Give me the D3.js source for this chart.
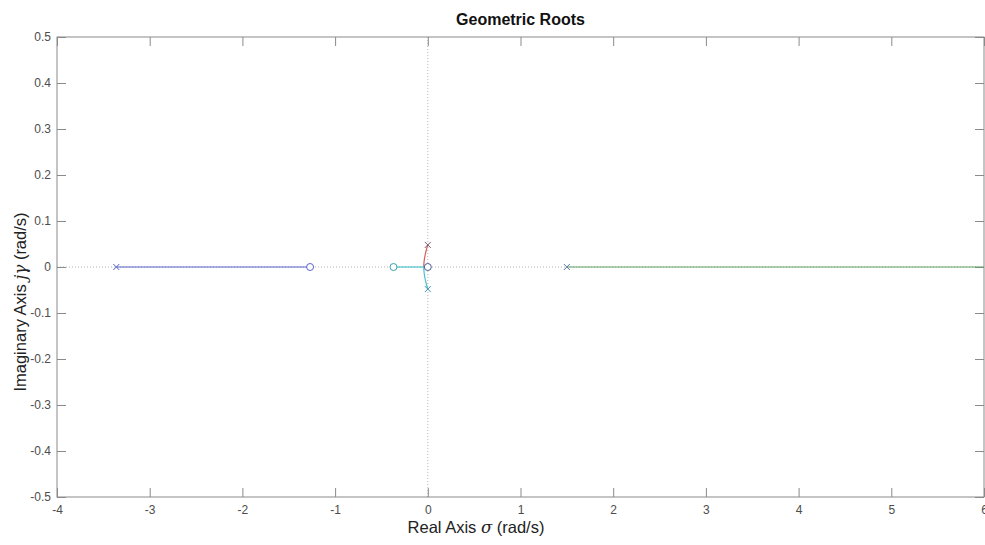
<!DOCTYPE html>
<html>
<head>
<title>Geometric Roots</title>
<script src="https://d3js.org/d3.v7.min.js"></script>
<style>
body { margin: 0; background: white; }
svg { display: block; font-family: "Liberation Sans", Arial, sans-serif; }
.tick line { stroke: #8a8a8a; }
.frame { fill: none; stroke: #8a8a8a; stroke-width: 1; }
.zeroline { stroke: #b5b5b5; stroke-dasharray: 1,2; }
.branch { fill: none; stroke-width: 1.2; }
</style>
</head>
<body>
<svg width="985" height="545"></svg>
<script>
// axis ticks
var xTicks = [-4, -3, -2, -1, 0, 1, 2, 3, 4, 5, 6];
var yTicks = [-0.5, -0.4, -0.3, -0.2, -0.1, 0, 0.1, 0.2, 0.3, 0.4, 0.5];

// open-loop poles and zeros (real, imag)
var poles = [[-3.36, 0], [1.5, 0], [0, 0.048], [0, -0.048]];
var zeros = [[-1.27, 0], [-0.37, 0], [0, 0]];

// root locus branches
var branchBlue = [[-3.36, 0], [-1.27, 0]];
var branchGreen = [[1.5, 0], [6, 0]];
var branchRed = [[0, 0.048], [-0.016, 0.037], [-0.029, 0.026], [-0.038, 0.015], [-0.043, 0.004], [-0.043, 0], [0, 0]];
var branchCyan = [[0, -0.048], [-0.016, -0.037], [-0.029, -0.026], [-0.038, -0.015], [-0.043, -0.004], [-0.043, 0], [-0.37, 0]];

// colours
var branchColors = ["#5763cc", "#5fa164", "#d2605c", "#4cc3cc"];
var poleColors = ["#5763cc", "#5a78a8", "#7a5a6a", "#3f93b5"];
var zeroColors = ["#5763cc", "#3a9fb0", "#4c5c98"];

function draw() {
  var svg = d3.select("svg");
  var mLeft = 57, mRight = 984, mTop = 37, mBottom = 497;

  var x = d3.scaleLinear().domain([-4, 6]).range([mLeft, mRight]);
  var y = d3.scaleLinear().domain([-0.5, 0.5]).range([mBottom, mTop]);

  // dotted axis lines through the origin
  svg.append("line").attr("class", "zeroline")
    .attr("x1", mLeft).attr("x2", mRight)
    .attr("y1", y(0)).attr("y2", y(0));
  svg.append("line").attr("class", "zeroline")
    .attr("x1", x(0)).attr("x2", x(0))
    .attr("y1", mTop).attr("y2", mBottom);

  // axes, ticks pointing inwards on all four sides
  var fmtY = function(d){ return String(Math.round(d * 10) / 10); };
  var fmtX = function(d){ return String(d); };

  svg.append("g")
    .attr("transform", "translate(0," + mBottom + ")")
    .call(d3.axisBottom(x).tickValues(xTicks).tickSizeInner(-9).tickSizeOuter(0).tickPadding(8).tickFormat(fmtX))
    .call(function(g){ g.select(".domain").remove(); });

  svg.append("g")
    .attr("transform", "translate(0," + mTop + ")")
    .call(d3.axisTop(x).tickValues(xTicks).tickSizeInner(-9).tickSizeOuter(0).tickFormat(""))
    .call(function(g){ g.select(".domain").remove(); });

  svg.append("g")
    .attr("transform", "translate(" + mLeft + ",0)")
    .call(d3.axisLeft(y).tickValues(yTicks).tickSizeInner(-9).tickSizeOuter(0).tickPadding(6).tickFormat(fmtY))
    .call(function(g){ g.select(".domain").remove(); });

  svg.append("g")
    .attr("transform", "translate(" + mRight + ",0)")
    .call(d3.axisRight(y).tickValues(yTicks).tickSizeInner(-9).tickSizeOuter(0).tickFormat(""))
    .call(function(g){ g.select(".domain").remove(); });

  svg.selectAll(".tick text")
    .attr("fill", "#4d4d4d")
    .style("font-size", "12px")
    .style("font-family", "'Liberation Sans', Arial, sans-serif");

  svg.append("rect").attr("class", "frame")
    .attr("x", mLeft).attr("y", mTop)
    .attr("width", mRight - mLeft).attr("height", mBottom - mTop);

  // branches
  var curve = d3.line()
    .x(function(d){ return x(d[0]); })
    .y(function(d){ return y(d[1]); })
    .curve(d3.curveMonotoneY);
  var straight = d3.line()
    .x(function(d){ return x(d[0]); })
    .y(function(d){ return y(d[1]); });

  var branches = [branchBlue, branchGreen, branchRed, branchCyan];
  branches.forEach(function(b, i){
    if (b.length > 2) {
      // curved part up to the break-in point, then straight along the real axis
      svg.append("path").attr("class", "branch").attr("stroke", branchColors[i])
        .attr("d", curve(b.slice(0, b.length - 1)));
      svg.append("path").attr("class", "branch").attr("stroke", branchColors[i])
        .attr("d", straight(b.slice(b.length - 2)));
    } else {
      svg.append("path").attr("class", "branch").attr("stroke", branchColors[i])
        .attr("d", straight(b));
    }
  });

  // poles as crosses
  var s = 3;
  poles.forEach(function(p, i){
    var cx = x(p[0]), cy = y(p[1]);
    svg.append("path")
      .attr("d", "M" + (cx - s) + "," + (cy - s) + "L" + (cx + s) + "," + (cy + s) +
                 "M" + (cx - s) + "," + (cy + s) + "L" + (cx + s) + "," + (cy - s))
      .attr("stroke", poleColors[i]).attr("stroke-width", 1).attr("fill", "none");
  });

  // zeros as circles
  zeros.forEach(function(z, i){
    svg.append("circle")
      .attr("cx", x(z[0])).attr("cy", y(z[1])).attr("r", 3.5)
      .attr("fill", "white").attr("stroke", zeroColors[i]).attr("stroke-width", 1);
  });

  // labels
  svg.append("text")
    .attr("x", (mLeft + mRight) / 2).attr("y", 25)
    .attr("text-anchor", "middle")
    .style("font-size", "16px").style("font-weight", "bold").style("fill", "#111")
    .text("Geometric Roots");

  var xl = svg.append("text")
    .attr("x", 476).attr("y", 533)
    .attr("text-anchor", "middle")
    .style("font-size", "16.5px").style("fill", "#222");
  xl.append("tspan").text("Real Axis ");
  xl.append("tspan").style("font-style", "italic").style("font-family", "'DejaVu Serif', serif").text("σ");
  xl.append("tspan").text(" (rad/s)");

  var yl = svg.append("text")
    .attr("transform", "translate(26,302) rotate(-90)")
    .attr("text-anchor", "middle")
    .style("font-size", "16.5px").style("fill", "#222");
  yl.append("tspan").text("Imaginary Axis ");
  yl.append("tspan").style("font-style", "italic").style("font-family", "'DejaVu Serif', serif").text("jγ");
  yl.append("tspan").text(" (rad/s)");
}

draw();
</script>
</body>
</html>
